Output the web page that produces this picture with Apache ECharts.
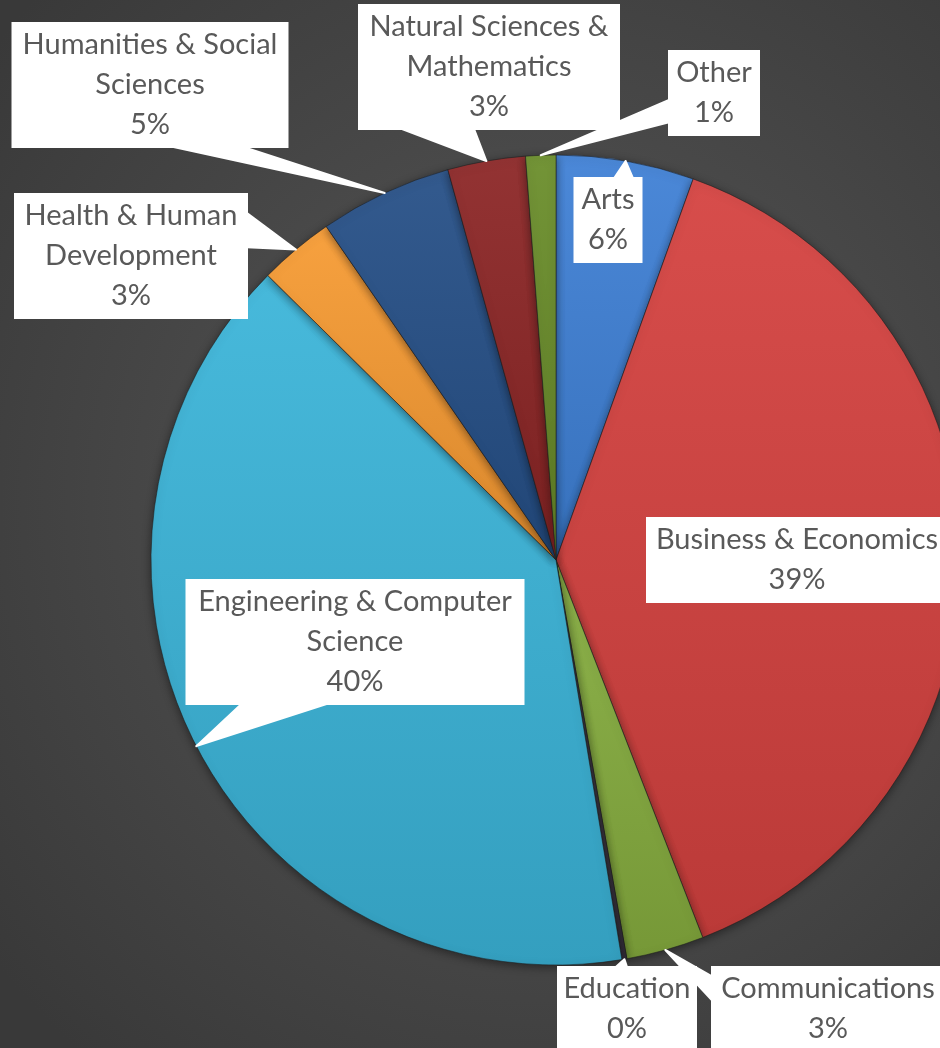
<!DOCTYPE html>
<html>
<head>
<meta charset="utf-8">
<script src="https://cdn.jsdelivr.net/npm/echarts@6/dist/echarts.min.js"></script>
<style>
html,body{margin:0;padding:0;}
#chart{width:940px;height:1048px;background:radial-gradient(ellipse 75% 70% at 58% 48%, #565656 0%, #4a4a4a 45%, #393939 100%);}
</style>
</head>
<body>
<div id="chart"></div>
<script>
const categories = ['Arts','Business & Economics','Communications','Education','Engineering & Computer Science','Health & Human Development','Humanities & Social Sciences','Natural Sciences & Mathematics','Other'];
const labelTexts = ['Arts','Business & Economics','Communications','Education','Engineering & Computer\nScience','Health & Human\nDevelopment','Humanities & Social\nSciences','Natural Sciences &\nMathematics','Other'];
const values = [5.5, 38.6, 3.1, 0.2, 40.0, 3.0, 5.3, 3.1, 1.2];
const colors = ['#3f80d6','#d44240','#86ad3f','#3a3442','#3bb5d9','#f79b33','#264f87','#8c2626','#6a8d2a'];

function shade(hex, f){
  const n=parseInt(hex.slice(1),16);
  let r=(n>>16)&255,g=(n>>8)&255,b=n&255;
  const t=f<0?0:255, p=Math.abs(f);
  r=Math.round((t-r)*p+r);g=Math.round((t-g)*p+g);b=Math.round((t-b)*p+b);
  return 'rgb('+r+','+g+','+b+')';
}
// label box placement (center x, center y) and outer widths
const labelPos = [[608,220],[797,560],[828,1009],[627,1009],[355,642],[131,256],[150,85],[489,67],[714,93]];
const labelW = [69,302,234,140,339,234,277,262,92];
// callout wedge: side of the box it leaves from, and span along that side (fractions)
const callout = [['top',0.59,0.86],null,['left',0.12,0.40],['top',0.42,0.50],['bottom',0.165,0.416],['right',0.16,0.43],['bottom',0.585,0.837],['bottom',0.168,0.443],['left',0.58,0.84]];
const LINE_H = 40, PAD_V = 3;

const chart = echarts.init(document.getElementById('chart'), null, {renderer:'canvas'});
const data = categories.map((c,i)=>({
  name: c,
  value: values[i],
  itemStyle: {
    color: {type:'linear',x:0,y:0,x2:0,y2:1,colorStops:[{offset:0,color:shade(colors[i],0.06)},{offset:1,color:shade(colors[i],-0.12)}]}
  },
  label: {width: labelW[i]-16},
  labelLine: {show: callout[i] !== null}
}));

function wedgePoints(i, tip){
  const co = callout[i];
  const p = labelPos[i];
  const lines = labelTexts[i].split('\n').length + 1;
  const w = labelW[i], h = lines*LINE_H + 2*PAD_V;
  const L = p[0]-w/2, T = p[1]-h/2, R = p[0]+w/2, B = p[1]+h/2;
  let a, b;
  if (co[0]==='top'){ a=[L+co[1]*w,T+1]; b=[L+co[2]*w,T+1]; }
  else if (co[0]==='bottom'){ a=[L+co[1]*w,B-1]; b=[L+co[2]*w,B-1]; }
  else if (co[0]==='left'){ a=[L+1,T+co[1]*h]; b=[L+1,T+co[2]*h]; }
  else { a=[R-1,T+co[1]*h]; b=[R-1,T+co[2]*h]; }
  const len = Math.hypot(b[0]-a[0], b[1]-a[1]);
  const n = Math.max(2, Math.ceil(len/1.2));
  const pts = [];
  for (let k=0;k<=n;k++){
    const t=k/n;
    pts.push([tip[0],tip[1]]);
    pts.push([a[0]+(b[0]-a[0])*t, a[1]+(b[1]-a[1])*t]);
  }
  return pts;
}

chart.setOption({
  backgroundColor: 'transparent',
  animation: false,
  series: [{
    type: 'pie',
    center: [556, 560],
    radius: [0, 405],
    startAngle: 90,
    clockwise: true,
    avoidLabelOverlap: false,
    data: data,
    itemStyle: {
      borderColor: 'rgba(30,30,30,0.55)',
      borderWidth: 1,
      shadowBlur: 10,
      shadowColor: 'rgba(0,0,0,0.45)',
      shadowOffsetY: 2
    },
    label: {
      show: true,
      position: 'outside',
      formatter: function(p){ return labelTexts[p.dataIndex] + '\n' + Math.round(p.percent) + '%'; },
      fontFamily: 'Lato',
      fontSize: 29,
      lineHeight: LINE_H,
      color: '#595959',
      backgroundColor: '#ffffff',
      padding: [PAD_V, 8],
      align: 'center',
      overflow: 'none'
    },
    labelLine: {
      show: true,
      showAbove: true,
      length: 10,
      length2: 10,
      lineStyle: {color: '#ffffff', width: 2, join: 'round', cap: 'round'}
    },
    labelLayout: function(params){
      const i = params.dataIndex;
      const p = labelPos[i];
      const out = {x: p[0], y: p[1], align: 'center', verticalAlign: 'middle'};
      if (callout[i] && params.labelLinePoints && params.labelLinePoints.length) {
        out.labelLinePoints = wedgePoints(i, params.labelLinePoints[0]);
      }
      return out;
    }
  }]
});

// keep the callout wedges above the slices (as in the reference)
function raiseGuides(){
  try {
    const s = chart.getModel().getSeriesByIndex(0);
    const view = chart.getViewOfSeriesModel(s);
    view.group.traverse(function(el){
      const g = el.getTextGuideLine && el.getTextGuideLine();
      if (g) {
        el.textGuideLineConfig = el.textGuideLineConfig || {};
        el.textGuideLineConfig.showAbove = true;
        g.z2 = 50;
        g.markRedraw();
      }
    });
    chart.getZr().refreshImmediately();
  } catch(e) {}
}
raiseGuides();
chart.on('finished', function(){
  const s = chart.getModel().getSeriesByIndex(0);
  const view = chart.getViewOfSeriesModel(s);
  let need = false;
  view.group.traverse(function(el){ const g = el.getTextGuideLine && el.getTextGuideLine(); if (g && g.z2 !== 50) need = true; });
  if (need) raiseGuides();
});
</script>
</body>
</html>
